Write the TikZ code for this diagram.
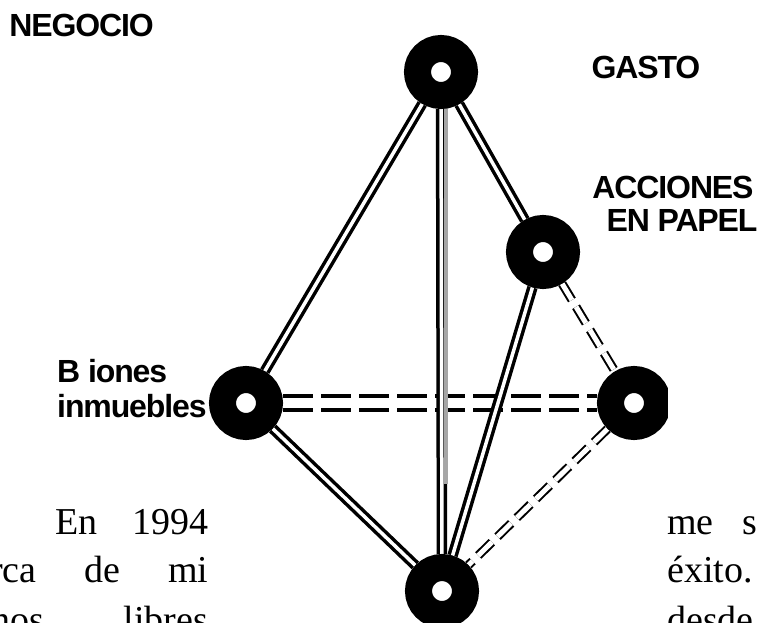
\documentclass[tikz,border=0pt]{standalone}
\usepackage{fontspec}
\setmainfont{Liberation Serif}
\newfontfamily\labelfont[LetterSpace=-3.5]{Liberation Sans Bold}
\usetikzlibrary{backgrounds}

\begin{document}
\begin{tikzpicture}[x=1pt,y=-1pt,node distance=100pt]
	\tikzstyle{hub}=[circle,draw=black,fill=white,line width=27pt,minimum size=47pt,inner sep=0pt]
	\tikzstyle{solidlink}=[draw=black,line width=3.5pt,double=white,double distance=3.5pt]
	\tikzstyle{dashlink}=[draw=black,line width=2pt,double=white,double distance=5pt,dash pattern=on 19pt off 8pt]
	\tikzstyle{flatlink}=[draw=black,line width=3.5pt,double=white,double distance=10.5pt,dash pattern=on 30pt off 8pt]
	\tikzstyle{tag}=[font=\labelfont\fontsize{32}{36}\selectfont,inner sep=0pt,anchor=base]
	\tikzstyle{body}=[font=\fontsize{38}{44}\selectfont,inner sep=0pt,anchor=base west]

	\useasboundingbox (0,0) rectangle (757,623);

	\node[hub] (T) at (441,72)  {};
	\node[hub] (P) at (543,252) {};
	\node[hub] (L) at (246,403) {};
	\node[hub] (R) [right of=L, node distance=388pt] {};
	\node[hub] (B) at (442,591) {};
	\coordinate (V) at (446,484);
	\coordinate (U) at (446,72);

	\begin{scope}[on background layer]
	\fill[white] (0,0) rectangle (757,623);
	\path[flatlink] (L) -- (R);
	\path[dashlink] (P) -- (R);
	\path[dashlink] (R) -- (B);
	\path[solidlink] (T) -- (L);
	\path[solidlink] (L) -- (B);
	\path[solidlink] (T) -- (P);
	\path[solidlink] (P) -- (B);
	\path[solidlink] (T) -- (B);
	\path[draw=gray!70,line width=3.5pt] (U) -- (V);
	\end{scope}

	% right disc is cut off by the text column
	\fill[white] (668,350) rectangle (720,460);

	\node[tag] (negocio)  at (81.5,37) {NEGOCIO};
	\node[tag] (gasto)    at (646,79)  {GASTO};
	\node[tag] (acciones) at (673,198) {ACCIONES};
	\node[tag] (papel)    at (682,231) {EN PAPEL};
	\node[tag,anchor=base west] (biones)    at (57,382) {B iones};
	\node[tag,anchor=base west] (inmuebles) at (57,417) {inmuebles};

	\node[body] (lineA) at (55,534)  {\makebox[153pt][s]{En 1994}};
	\node[body] (lineB) at (-10,582) {\makebox[218pt][s]{rca de mi}};
	\node[body] (lineC) at (-9,632)  {\makebox[217pt][s]{nos libres}};
	\node[body] (lineD) at (667,534) {\makebox[107pt][s]{me se}};
	\node[body] (lineE) at (667,582) {éxito.};
	\node[body] (lineF) at (667,632) {desde};
\end{tikzpicture}
\end{document}
